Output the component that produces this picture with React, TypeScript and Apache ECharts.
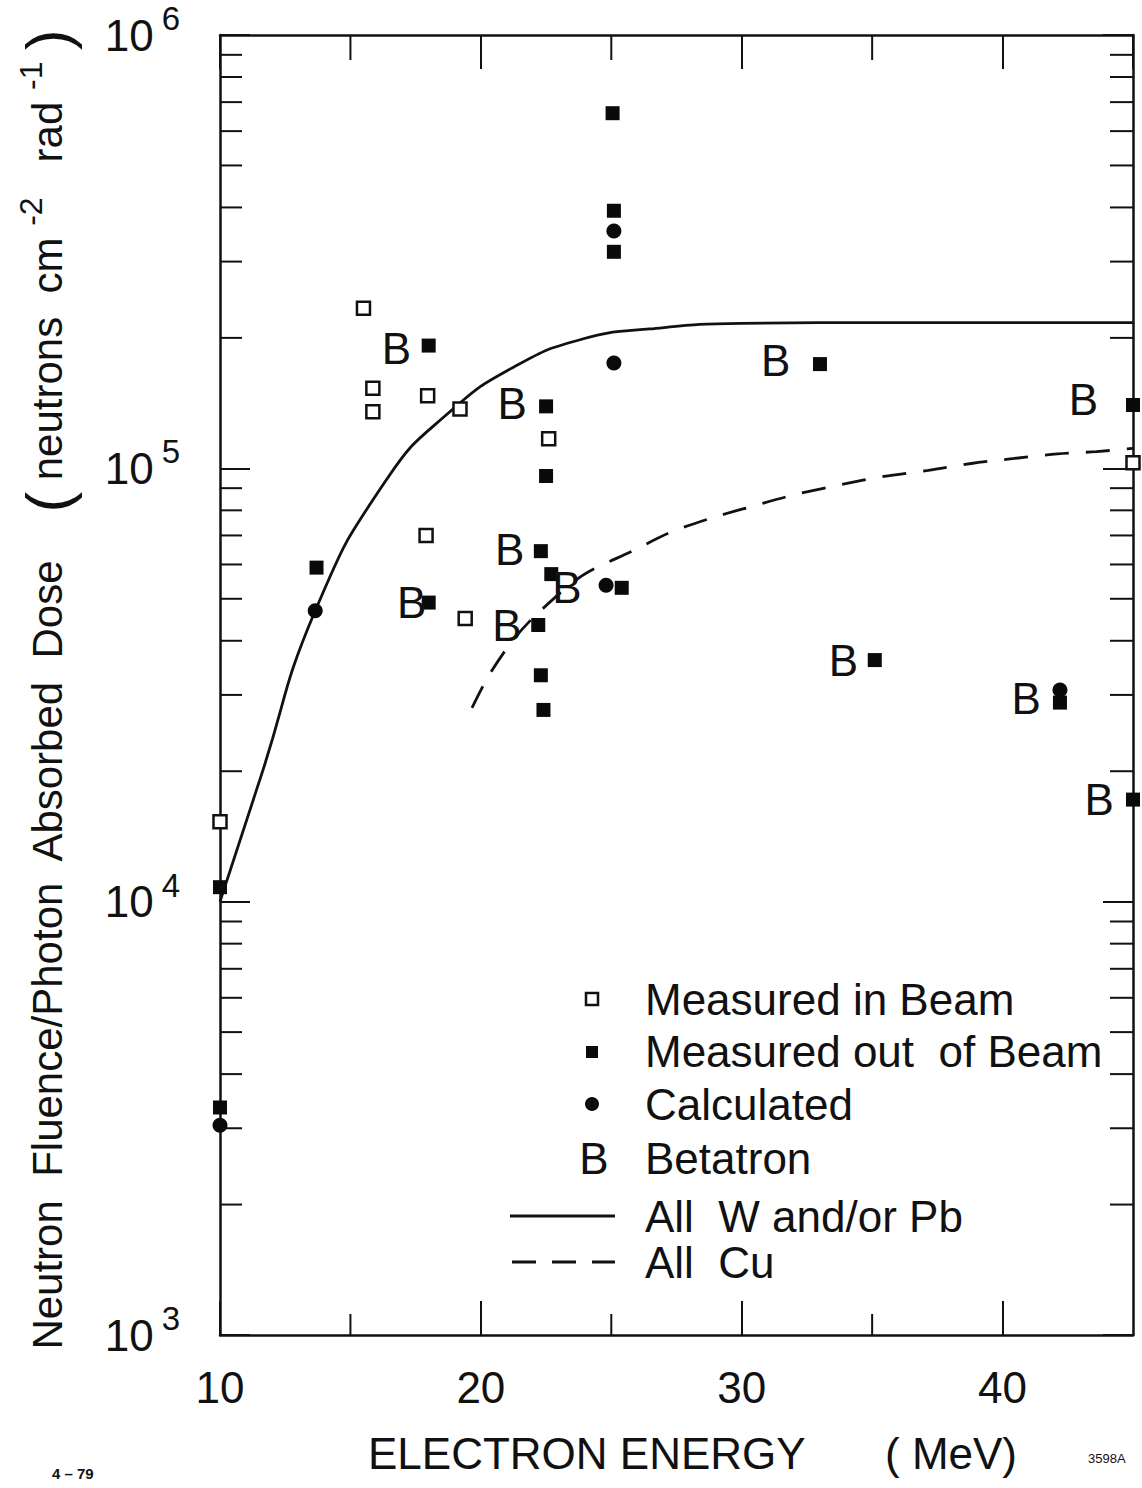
import React, { useEffect, useRef } from "react";
import * as echarts from "echarts";

const FONT = "'Liberation Sans', Arial, sans-serif";
const INK = "#111";

// x tick labels
const xTickLabels = [10, 20, 30, 40];
const xMinorTicks = [15, 25, 35];
const yDecades = [1e3, 1e4, 1e5];
const yMinorMultipliers = [2, 3, 4, 5, 6, 7, 8, 9];

// Data: [electron energy MeV, neutrons cm^-2 rad^-1]
const measuredInBeam = [
  [15.5, 2.34e5], [15.86, 1.53e5], [15.86, 1.35e5], [17.96, 1.47e5], [19.2, 1.37e5],
  [22.6, 1.17e5], [17.9, 7.0e4], [19.4, 4.5e4], [10, 1.53e4], [45, 1.03e5],
];
const measuredOutOfBeam = [
  [25.05, 6.6e5], [25.1, 3.93e5], [25.1, 3.16e5], [18.0, 1.92e5], [22.5, 1.39e5],
  [22.5, 9.6e4], [13.7, 5.9e4], [22.3, 6.44e4], [22.7, 5.7e4], [18.0, 4.9e4],
  [22.2, 4.35e4], [22.3, 3.33e4], [22.4, 2.77e4], [25.4, 5.3e4], [33.0, 1.74e5],
  [45, 1.40e5], [35.1, 3.61e4], [42.2, 2.88e4], [45, 1.72e4], [10, 1.08e4], [10, 3.35e3],
];
const calculated = [
  [25.1, 3.53e5], [25.1, 1.75e5], [13.65, 4.69e4], [24.8, 5.37e4], [42.2, 3.08e4], [10, 3.05e3],
];
const betatron = [
  [16.76, 1.89e5], [21.2, 1.41e5], [21.1, 6.5e4], [17.35, 4.89e4], [21.0, 4.33e4],
  [23.3, 5.3e4], [31.3, 1.77e5], [33.9, 3.6e4], [40.9, 2.95e4], [43.1, 1.44e5], [43.7, 1.72e4],
];
const allWPb = [
  [10, 1.0e4], [11.55, 1.93e4], [13.65, 4.69e4], [16.4, 9.45e4], [18.8, 1.349e5],
  [21.33, 1.722e5], [23.9, 1.988e5], [26.47, 2.097e5], [30, 2.16e5], [36, 2.17e5], [45, 2.17e5],
];
const allCu = [
  [19.66, 2.8e4], [20.3, 3.32e4], [21.2, 3.99e4], [22.1, 4.58e4], [23.9, 5.66e4],
  [25.8, 6.44e4], [27.3, 7.13e4], [28.9, 7.7e4], [30.4, 8.17e4], [32.05, 8.7e4],
  [33.85, 9.18e4], [35.45, 9.58e4], [37.15, 9.89e4], [38.8, 1.026e5], [40.45, 1.054e5],
  [42.1, 1.08e5], [43.6, 1.093e5], [45, 1.112e5],
];

const legendItems = [
  ["Measured in Beam", 999],
  ["Measured out  of Beam", 1051],
  ["Calculated", 1104],
  ["Betatron", 1158],
  ["All  W and/or Pb", 1216],
  ["All  Cu", 1262],
];

const X_MIN = 10, X_MAX = 45, Y_MIN = 1e3, Y_MAX = 1e6;

function buildMinorTicks() {
  const out: number[][] = [];
  yDecades.forEach((d) => {
    yMinorMultipliers.forEach((m) => {
      out.push([X_MIN, d * m, 0]);
      out.push([X_MAX, d * m, 1]);
    });
  });
  xMinorTicks.forEach((x) => {
    out.push([x, Y_MIN, 2]);
    out.push([x, Y_MAX, 3]);
  });
  return out;
}

export default function App() {
  const ref = useRef<HTMLDivElement>(null);
  useEffect(() => {
    if (!ref.current) return;
    const chart = echarts.init(ref.current, undefined, { renderer: "svg" });

    const axisLine = { show: true, onZero: false, lineStyle: { color: INK, width: 2.5 } };
    const xBase = {
      type: "value", min: X_MIN, max: X_MAX, interval: 10,
      axisLine,
      axisTick: { show: true, inside: true, length: 34, lineStyle: { color: INK, width: 2 } },
      splitLine: { show: false },
    };
    const yBase = {
      type: "log", logBase: 10, min: Y_MIN, max: Y_MAX,
      axisLine,
      axisTick: { show: true, inside: true, length: 30, lineStyle: { color: INK, width: 2 } },
      splitLine: { show: false },
      minorTick: { show: false },
    };

    const option: any = {
      animation: false,
      backgroundColor: "#fff",
      grid: { left: 220, right: 9, top: 35, bottom: 153, containLabel: false },
      xAxis: [
        {
          ...xBase, position: "bottom",
          axisLabel: {
            show: true, showMaxLabel: false,
            formatter: (v: number) => (xTickLabels.includes(v) ? String(v) : ""),
            fontSize: 44, fontFamily: FONT, color: INK, margin: 30,
          },
        },
        { ...xBase, position: "top", axisLabel: { show: false } },
      ],
      yAxis: [
        {
          ...yBase, position: "left",
          axisLabel: {
            show: true, margin: 40,
            formatter: (v: number) => `{b|10}{s|${Math.round(Math.log10(v))}}`,
            rich: {
              b: { fontSize: 44, fontFamily: FONT, color: INK, lineHeight: 66, verticalAlign: "middle" },
              s: { fontSize: 33, fontFamily: FONT, color: INK, lineHeight: 32, verticalAlign: "top", padding: [0, 0, 0, 8] },
            },
          },
        },
        { ...yBase, position: "right", axisLabel: { show: false } },
      ],
      series: [
        {
          type: "line", name: "All W and/or Pb", data: allWPb, smooth: 0.5, symbol: "none",
          lineStyle: { color: INK, width: 2.8 }, silent: true, z: 2,
        },
        {
          type: "line", name: "All Cu", data: allCu, smooth: 0.3, symbol: "none",
          lineStyle: { color: INK, width: 2.8, type: [24, 17] }, silent: true, z: 2,
        },
        {
          type: "scatter", name: "Measured in Beam", data: measuredInBeam, symbol: "rect", symbolSize: 13,
          itemStyle: { color: "#fff", borderColor: INK, borderWidth: 2.5, opacity: 1 }, clip: false, silent: true, z: 3,
        },
        {
          type: "scatter", name: "Measured out of Beam", data: measuredOutOfBeam, symbol: "rect", symbolSize: 14,
          itemStyle: { color: "#0a0a0a", opacity: 1 }, clip: false, silent: true, z: 4,
        },
        {
          type: "scatter", name: "Calculated", data: calculated, symbol: "circle", symbolSize: 15,
          itemStyle: { color: "#0a0a0a", opacity: 1 }, clip: false, silent: true, z: 5,
        },
        {
          type: "scatter", name: "Betatron", data: betatron, symbol: "circle", symbolSize: 1,
          itemStyle: { color: "rgba(0,0,0,0)" }, clip: false, silent: true, z: 5,
          label: { show: true, position: "inside", formatter: "B", fontSize: 44, fontFamily: FONT, color: INK, opacity: 1 },
        },
        {
          type: "custom", name: "minor ticks", data: buildMinorTicks(), clip: false, silent: true, z: 10,
          renderItem: (params: any, api: any) => {
            const side = api.value(2);
            const p = api.coord([api.value(0), api.value(1)]);
            let x2 = p[0], y2 = p[1];
            if (side === 0) x2 = p[0] + 22;
            else if (side === 1) x2 = p[0] - 23;
            else if (side === 2) y2 = p[1] - 21;
            else y2 = p[1] + 25;
            return {
              type: "line",
              shape: { x1: p[0], y1: p[1], x2, y2 },
              style: { stroke: INK, lineWidth: 2 },
            };
          },
        },
      ],
      graphic: [
        {
          type: "text", x: 47, y: 690, rotation: Math.PI / 2,
          style: {
            text: "Neutron  Fluence/Photon  Absorbed  Dose    {p|(} neutrons  cm {sup|-2}   rad {sup|-1} {p|)}",
            fontSize: 42, fontFamily: FONT, fill: INK, align: "center", verticalAlign: "middle", lineHeight: 64,
            rich: {
              p: { fontSize: 62, fontFamily: FONT, fill: INK, lineHeight: 64 },
              sup: { fontSize: 32, fontFamily: FONT, fill: INK, lineHeight: 32, verticalAlign: "top" },
            },
          },
        },
        {
          type: "text", x: 368, y: 1453,
          style: { text: "ELECTRON ENERGY", fontSize: 44, fontFamily: FONT, fill: INK, align: "left", verticalAlign: "middle" },
        },
        {
          type: "text", x: 885, y: 1453,
          style: { text: "( MeV)", fontSize: 44, fontFamily: FONT, fill: INK, align: "left", verticalAlign: "middle" },
        },
        {
          type: "text", x: 52, y: 1473,
          style: { text: "4 – 79", fontSize: 15, fontFamily: FONT, fill: INK, fontWeight: "bold", align: "left", verticalAlign: "middle" },
        },
        {
          type: "text", x: 1088, y: 1458,
          style: { text: "3598A", fontSize: 13, fontFamily: FONT, fill: INK, align: "left", verticalAlign: "middle" },
        },
        // legend
        { type: "rect", shape: { x: 586, y: 993, width: 12, height: 12 }, style: { fill: "#fff", stroke: INK, lineWidth: 2.5 } },
        { type: "rect", shape: { x: 586, y: 1046, width: 12, height: 12 }, style: { fill: "#0a0a0a" } },
        { type: "circle", shape: { cx: 592, cy: 1104, r: 7 }, style: { fill: "#0a0a0a" } },
        {
          type: "text", x: 594, y: 1158,
          style: { text: "B", fontSize: 44, fontFamily: FONT, fill: INK, align: "center", verticalAlign: "middle" },
        },
        { type: "line", shape: { x1: 510, y1: 1216, x2: 615, y2: 1216 }, style: { stroke: INK, lineWidth: 3 } },
        { type: "line", shape: { x1: 512, y1: 1262, x2: 615, y2: 1262 }, style: { stroke: INK, lineWidth: 3, lineDash: [24, 16] } },
        ...legendItems.map(([t, y]) => ({
          type: "text", x: 645, y: y as number,
          style: { text: t as string, fontSize: 44, fontFamily: FONT, fill: INK, align: "left", verticalAlign: "middle" },
        })),
      ],
    };

    chart.setOption(option);
    return () => chart.dispose();
  }, []);

  return (
    <div
      ref={ref}
      style={{ position: "absolute", left: 0, top: 0, width: 1142, height: 1488, background: "#fff" }}
    />
  );
}
